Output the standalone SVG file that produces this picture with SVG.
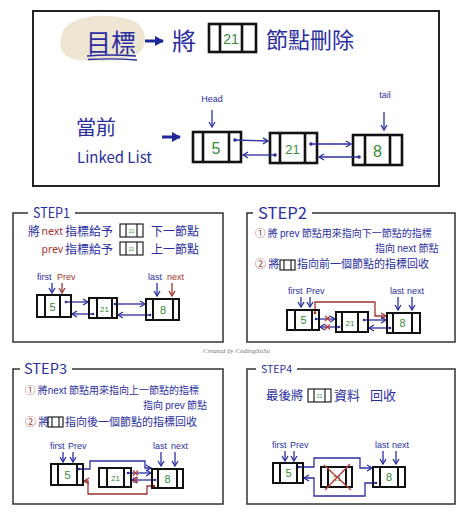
<svg xmlns="http://www.w3.org/2000/svg" width="474" height="520" viewBox="0 0 474 520">
<style>
.bg{fill:#fff}
.frame{fill:none;stroke:#222;stroke-width:2}
.sframe{fill:none;stroke:#333;stroke-width:1.5}
.nd{fill:none;stroke:#111;stroke-width:2}
.ndt{fill:none;stroke:#111;stroke-width:2.6}
.ic{fill:none;stroke:#222;stroke-width:1.2}
.bt{font-family:"Noto Sans CJK TC","Noto Sans",sans-serif;fill:#2b2f9e}
.rt{font-family:"Noto Sans","Noto Sans CJK TC",sans-serif;fill:#a3322c}
.gt{font-family:"Liberation Sans","Noto Sans",sans-serif;fill:#3a8a3a}
.lbl{font-family:"Liberation Sans",sans-serif;font-size:9px;fill:#2b2f9e}
.lblr{font-family:"Liberation Sans",sans-serif;font-size:9px;fill:#a3322c}
.bl{fill:none;stroke:#2b2f9e;stroke-width:1.3}
.rl{fill:none;stroke:#a3322c;stroke-width:1.3}
.dot{fill:#2b2f9e}
.rdot{fill:#a3322c}
.x{stroke:#c0392b;stroke-width:1.1}
</style>
<defs>
<marker id="ab" markerWidth="8" markerHeight="8" refX="6" refY="4" orient="auto" markerUnits="userSpaceOnUse"><path d="M1,1 L6,4 L1,7" fill="none" stroke="#2b2f9e" stroke-width="1.3"/></marker>
<marker id="ar" markerWidth="8" markerHeight="8" refX="6" refY="4" orient="auto" markerUnits="userSpaceOnUse"><path d="M1,1 L6,4 L1,7" fill="none" stroke="#a3322c" stroke-width="1.3"/></marker>
<marker id="af" markerWidth="10" markerHeight="10" refX="8" refY="5" orient="auto" markerUnits="userSpaceOnUse"><path d="M0,0 L9,5 L0,10 Z" fill="#1f2a9a"/></marker>
</defs>
<rect class="bg" width="474" height="520"/>

<!-- top panel -->
<g id="top">
<rect class="frame" x="33" y="11" width="406" height="175"/>
<path d="M62,34 C66,18 96,12 124,18 C146,22 148,38 142,50 C134,62 100,62 78,60 C60,57 58,46 62,34 Z" fill="#efe5d3"/>
<text class="bt" x="86" y="52" font-size="25">目標</text>
<path class="bl" d="M87,56 Q110,54 136,56 M88,59.5 Q112,58 137,60" stroke-width="1.6"/>
<text class="bt" x="172" y="50" font-size="24">將</text>
<text class="bt" x="266" y="48" font-size="22">節點刪除</text>
<g id="icon-top"><rect class="ndt" x="209" y="24" width="47" height="28"/><line class="ndt" x1="220" y1="24" x2="220" y2="52"/><line class="ndt" x1="242" y1="24" x2="242" y2="52"/><text class="gt" x="231" y="44" font-size="14" text-anchor="middle">21</text></g>
<text class="bt" x="76" y="135" font-size="20">當前</text>
<text class="bt" x="77" y="163" font-size="15" font-family="Liberation Sans">Linked List</text>
<text class="lbl" x="212" y="102" text-anchor="middle">Head</text>
<text class="lbl" x="385" y="98" text-anchor="middle">tail</text>
</g>
<g id="top-n1"><rect class="ndt" x="193" y="132" width="48" height="30"/><line class="ndt" x1="203" y1="132" x2="203" y2="162"/><line class="ndt" x1="229" y1="132" x2="229" y2="162"/><text class="gt" x="216" y="154" font-size="16" text-anchor="middle">5</text></g>
<g id="top-n2"><rect class="ndt" x="270" y="133" width="47" height="30"/><line class="ndt" x1="280" y1="133" x2="280" y2="163"/><line class="ndt" x1="305" y1="133" x2="305" y2="163"/><text class="gt" x="292.5" y="154" font-size="13" text-anchor="middle">21</text></g>
<g id="top-n3"><rect class="ndt" x="353" y="135" width="49" height="30"/><line class="ndt" x1="365" y1="135" x2="365" y2="165"/><line class="ndt" x1="390" y1="135" x2="390" y2="165"/><text class="gt" x="377.5" y="157" font-size="16" text-anchor="middle">8</text></g>

<g id="connectors">
<line x1="145" y1="41" x2="163" y2="41" stroke="#1f2a9a" stroke-width="3" marker-end="url(#af)"/>
<line x1="162" y1="137" x2="180" y2="137" stroke="#1f2a9a" stroke-width="3" marker-end="url(#af)"/>
<line class="bl" x1="212" y1="110" x2="212" y2="127" marker-end="url(#ab)"/>
<line class="bl" x1="384" y1="112" x2="384" y2="130" marker-end="url(#ab)"/>
<circle class="dot" cx="235" cy="140" r="1.8"/><line class="bl" x1="235" y1="140" x2="268" y2="141" marker-end="url(#ab)"/>
<circle class="dot" cx="275" cy="155" r="1.8"/><line class="bl" x1="275" y1="155" x2="243" y2="155" marker-end="url(#ab)"/>
<circle class="dot" cx="311" cy="144" r="1.8"/><line class="bl" x1="311" y1="144" x2="351" y2="144" marker-end="url(#ab)"/>
<circle class="dot" cx="359" cy="157" r="1.8"/><line class="bl" x1="359" y1="157" x2="319" y2="157" marker-end="url(#ab)"/>

<!-- step1 -->
<line class="bl" x1="52" y1="283" x2="52" y2="293" marker-end="url(#ab)"/>
<line class="rl" x1="62" y1="283" x2="62" y2="293" marker-end="url(#ar)"/>
<line class="bl" x1="157" y1="283" x2="157" y2="296" marker-end="url(#ab)"/>
<line class="rl" x1="172" y1="283" x2="172" y2="296" marker-end="url(#ar)"/>
<circle class="dot" cx="66" cy="302" r="1.3"/><line class="bl" x1="66" y1="302" x2="88" y2="302" marker-end="url(#ab)"/>
<circle class="dot" cx="93" cy="314" r="1.3"/><line class="bl" x1="93" y1="314" x2="72" y2="314" marker-end="url(#ab)"/>
<circle class="dot" cx="115" cy="304" r="1.3"/><line class="bl" x1="115" y1="304" x2="145" y2="304" marker-end="url(#ab)"/>
<circle class="dot" cx="150" cy="315" r="1.3"/><line class="bl" x1="150" y1="315" x2="118" y2="315" marker-end="url(#ab)"/>

<!-- step2 -->
<line class="bl" x1="301" y1="297" x2="301" y2="307" marker-end="url(#ab)"/>
<line class="bl" x1="310" y1="297" x2="310" y2="307" marker-end="url(#ab)"/>
<line class="bl" x1="398" y1="297" x2="398" y2="310" marker-end="url(#ab)"/>
<line class="bl" x1="412" y1="297" x2="412" y2="310" marker-end="url(#ab)"/>
<circle class="rdot" cx="315" cy="313" r="1.3"/><path class="rl" d="M315,313 V302 H375 V316 H386" marker-end="url(#ar)"/>
<circle class="dot" cx="316" cy="319" r="1.3"/><line class="bl" x1="316" y1="319" x2="335" y2="319" marker-end="url(#ab)"/>
<path class="x" d="M325,316 l5,5 M330,316 l-5,5"/>
<circle class="dot" cx="339" cy="327" r="1.3"/><line class="bl" x1="339" y1="327" x2="320" y2="327" marker-end="url(#ab)"/>
<path class="x" d="M325,324.5 l5,5 M330,324.5 l-5,5"/>
<circle class="dot" cx="364" cy="320" r="1.3"/><line class="bl" x1="364" y1="320" x2="386" y2="320" marker-end="url(#ab)"/>
<circle class="dot" cx="390" cy="328" r="1.3"/><line class="bl" x1="390" y1="328" x2="369" y2="328" marker-end="url(#ab)"/>

<!-- step3 -->
<line class="bl" x1="63" y1="452" x2="63" y2="462" marker-end="url(#ab)"/>
<line class="bl" x1="73" y1="452" x2="73" y2="462" marker-end="url(#ab)"/>
<line class="bl" x1="161" y1="452" x2="161" y2="466" marker-end="url(#ab)"/>
<line class="bl" x1="175" y1="452" x2="175" y2="466" marker-end="url(#ab)"/>
<circle class="dot" cx="79" cy="469" r="1.3"/><path class="bl" d="M79,469 H90 V461 H145 V468 H151" marker-end="url(#ab)"/>
<circle class="rdot" cx="154" cy="486" r="1.3"/><path class="rl" d="M154,486 H147 V494 H88 V481 H84" marker-end="url(#ar)"/>
<circle class="dot" cx="128" cy="473" r="1.3"/><line class="bl" x1="128" y1="473" x2="151" y2="473" marker-end="url(#ab)"/>
<path class="x" d="M133,470.5 l5,5 M138,470.5 l-5,5"/>
<circle class="dot" cx="155" cy="480" r="1.3"/><line class="bl" x1="155" y1="480" x2="132" y2="480" marker-end="url(#ab)"/>
<path class="x" d="M133,477.5 l5,5 M138,477.5 l-5,5"/>

<!-- step4 -->
<line class="bl" x1="285" y1="451" x2="285" y2="461" marker-end="url(#ab)"/>
<line class="bl" x1="294" y1="451" x2="294" y2="461" marker-end="url(#ab)"/>
<line class="bl" x1="383" y1="451" x2="383" y2="464" marker-end="url(#ab)"/>
<line class="bl" x1="396" y1="451" x2="396" y2="464" marker-end="url(#ab)"/>
<circle class="dot" cx="299" cy="467" r="1.3"/><path class="bl" d="M299,467 H314 V458 H360 V468 H372" marker-end="url(#ab)"/>
<circle class="dot" cx="376" cy="483" r="1.3"/><path class="bl" d="M376,483 H365 V496 H314 V478 H304" marker-end="url(#ab)"/>
</g>

<!-- STEP1 panel -->
<g id="step1">
<path class="sframe" d="M28,213 H13 V342 H223 V213 H75"/>
<text class="bt" x="33" y="218" font-size="14" font-family="Liberation Sans" textLength="37" lengthAdjust="spacingAndGlyphs">STEP1</text>
<text class="bt" x="28" y="236" font-size="12">將</text>
<text class="rt" x="41.5" y="235" font-size="10.5">next</text>
<text class="bt" x="65" y="236" font-size="12">指標給予</text>
<text class="bt" x="151" y="236" font-size="12">下一節點</text>
<text class="rt" x="41.5" y="253" font-size="10.5">prev</text>
<text class="bt" x="65" y="254" font-size="12">指標給予</text>
<text class="bt" x="151" y="254" font-size="12">上一節點</text>
<text class="lbl" x="37" y="280">first</text>
<text class="lblr" x="57" y="280">Prev</text>
<text class="lbl" x="148" y="280">last</text>
<text class="lblr" x="167" y="280">next</text>
</g>
<g id="s1-icon1" class="icon"><rect class="ic" x="120" y="224" width="23" height="13"/><line class="ic" x1="126" y1="224" x2="126" y2="237"/><line class="ic" x1="137" y1="224" x2="137" y2="237"/><text class="gt" x="131.5" y="233" font-size="5" text-anchor="middle">21</text></g>
<g id="s1-icon2" class="icon"><rect class="ic" x="120" y="242" width="23" height="13"/><line class="ic" x1="126" y1="242" x2="126" y2="255"/><line class="ic" x1="137" y1="242" x2="137" y2="255"/><text class="gt" x="131.5" y="251" font-size="5" text-anchor="middle">21</text></g>
<g id="s1-n1"><rect class="nd" x="37" y="295" width="34" height="22"/><line class="nd" x1="45" y1="295" x2="45" y2="317"/><line class="nd" x1="60" y1="295" x2="60" y2="317"/><text class="gt" x="52.5" y="311" font-size="11" text-anchor="middle">5</text></g>
<g id="s1-n2"><rect class="nd" x="89" y="298" width="28" height="20"/><line class="nd" x1="97" y1="298" x2="97" y2="318"/><line class="nd" x1="112" y1="298" x2="112" y2="318"/><text class="gt" x="104.5" y="312" font-size="8" text-anchor="middle">21</text></g>
<g id="s1-n3"><rect class="nd" x="146" y="299" width="33" height="21"/><line class="nd" x1="153" y1="299" x2="153" y2="320"/><line class="nd" x1="173" y1="299" x2="173" y2="320"/><text class="gt" x="163" y="314" font-size="11" text-anchor="middle">8</text></g>

<!-- STEP2 panel -->
<g id="step2">
<path class="sframe" d="M253,213 H247 V342 H455 V213 H312"/>
<text class="bt" x="258" y="219" font-size="16" font-family="Liberation Sans" textLength="49" lengthAdjust="spacingAndGlyphs">STEP2</text>
<text class="bt" x="255" y="236.5" font-size="10"><tspan class="rt" font-size="10.5">①</tspan> 將 <tspan font-family="Liberation Sans">prev</tspan> 節點用來指向下一節點的指標</text>
<text class="bt" x="375" y="252" font-size="10">指向 <tspan font-family="Liberation Sans">next</tspan> 節點</text>
<text class="bt" x="255" y="268" font-size="11"><tspan class="rt">②</tspan> 將</text>
<text class="bt" x="297" y="268" font-size="11">指向前一個節點的指標回收</text>
<text class="lbl" x="288" y="294">first</text>
<text class="lbl" x="306" y="294">Prev</text>
<text class="lbl" x="390" y="294">last</text>
<text class="lbl" x="407" y="294">next</text>
</g>
<g id="s2-icon" class="icon"><rect class="ic" x="280" y="260" width="15" height="10"/><line class="ic" x1="284" y1="260" x2="284" y2="270"/><line class="ic" x1="291" y1="260" x2="291" y2="270"/></g>
<g id="s2-n1"><rect class="nd" x="287" y="310" width="32" height="20"/><line class="nd" x1="295" y1="310" x2="295" y2="330"/><line class="nd" x1="312" y1="310" x2="312" y2="330"/><text class="gt" x="303.5" y="324" font-size="11" text-anchor="middle">5</text></g>
<g id="s2-n2"><rect class="nd" x="336" y="312" width="32" height="20"/><line class="nd" x1="342" y1="312" x2="342" y2="332"/><line class="nd" x1="358" y1="312" x2="358" y2="332"/><text class="gt" x="350" y="326" font-size="8" text-anchor="middle">21</text></g>
<g id="s2-n3"><rect class="nd" x="387" y="313" width="33" height="20"/><line class="nd" x1="393" y1="313" x2="393" y2="333"/><line class="nd" x1="412" y1="313" x2="412" y2="333"/><text class="gt" x="402.5" y="327" font-size="11" text-anchor="middle">8</text></g>

<text id="credit" x="203" y="353" font-family="Liberation Serif" font-style="italic" font-size="7" fill="#777">Created by CodingSuSu</text>

<!-- STEP3 panel -->
<g id="step3">
<path class="sframe" d="M20,369 H13 V504 H223 V369 H72"/>
<text class="bt" x="24" y="374" font-size="14" font-family="Liberation Sans" textLength="43" lengthAdjust="spacingAndGlyphs">STEP3</text>
<text class="bt" x="25" y="393.5" font-size="10"><tspan class="rt" font-size="10.5">①</tspan> 將<tspan font-family="Liberation Sans">next</tspan> 節點用來指向上一節點的指標</text>
<text class="bt" x="143" y="409" font-size="10">指向 <tspan font-family="Liberation Sans">prev</tspan> 節點</text>
<text class="bt" x="25" y="426" font-size="11"><tspan class="rt">②</tspan> 將</text>
<text class="bt" x="65" y="426" font-size="11">指向後一個節點的指標回收</text>
<text class="lbl" x="50" y="449">first</text>
<text class="lbl" x="68" y="449">Prev</text>
<text class="lbl" x="153" y="449">last</text>
<text class="lbl" x="171" y="449">next</text>
</g>
<g id="s3-icon" class="icon"><rect class="ic" x="48" y="417" width="15" height="10"/><line class="ic" x1="52" y1="417" x2="52" y2="427"/><line class="ic" x1="59" y1="417" x2="59" y2="427"/></g>
<g id="s3-n1"><rect class="nd" x="51" y="464" width="32" height="21"/><line class="nd" x1="58" y1="464" x2="58" y2="485"/><line class="nd" x1="77" y1="464" x2="77" y2="485"/><text class="gt" x="67.5" y="479" font-size="11" text-anchor="middle">5</text></g>
<g id="s3-n2"><rect class="nd" x="99" y="468" width="32" height="19"/><line class="nd" x1="107" y1="468" x2="107" y2="487"/><line class="nd" x1="124" y1="468" x2="124" y2="487"/><text class="gt" x="115.5" y="481" font-size="8" text-anchor="middle">21</text></g>
<g id="s3-n3"><rect class="nd" x="152" y="469" width="31" height="19"/><line class="nd" x1="158" y1="469" x2="158" y2="488"/><line class="nd" x1="177" y1="469" x2="177" y2="488"/><text class="gt" x="167.5" y="483" font-size="11" text-anchor="middle">8</text></g>

<!-- STEP4 panel -->
<g id="step4">
<path class="sframe" d="M256,369 H247 V504 H455 V369 H297"/>
<text class="bt" x="261" y="373" font-size="11" font-family="Liberation Sans" textLength="31" lengthAdjust="spacingAndGlyphs">STEP4</text>
<text class="bt" x="266" y="400" font-size="12.5">最後將</text>
<text class="bt" x="334" y="400" font-size="13">資料</text>
<text class="bt" x="370" y="400" font-size="13">回收</text>
<text class="lbl" x="272" y="448">first</text>
<text class="lbl" x="290" y="448">Prev</text>
<text class="lbl" x="375" y="448">last</text>
<text class="lbl" x="392" y="448">next</text>
</g>
<g id="s4-icon" class="icon"><rect class="ic" x="308" y="389" width="23" height="13"/><line class="ic" x1="314" y1="389" x2="314" y2="402"/><line class="ic" x1="325" y1="389" x2="325" y2="402"/><text class="gt" x="319.5" y="398" font-size="5" text-anchor="middle">21</text></g>
<g id="s4-n1"><rect class="nd" x="273" y="463" width="30" height="20"/><line class="nd" x1="280" y1="463" x2="280" y2="483"/><line class="nd" x1="297" y1="463" x2="297" y2="483"/><text class="gt" x="288.5" y="477" font-size="11" text-anchor="middle">5</text></g>
<g id="s4-n2"><rect class="nd" x="321" y="467" width="31" height="20"/><line class="nd" x1="328" y1="467" x2="328" y2="487"/><line class="nd" x1="346" y1="467" x2="346" y2="487"/><text class="gt" x="337" y="481" font-size="8" text-anchor="middle">21</text><path d="M324,465 L351,490 M350,464 L325,490" stroke="#b5403a" stroke-width="1.4"/></g>
<g id="s4-n3"><rect class="nd" x="373" y="467" width="32" height="20"/><line class="nd" x1="380" y1="467" x2="380" y2="487"/><line class="nd" x1="398" y1="467" x2="398" y2="487"/><text class="gt" x="389" y="481" font-size="11" text-anchor="middle">8</text></g>
</svg>
